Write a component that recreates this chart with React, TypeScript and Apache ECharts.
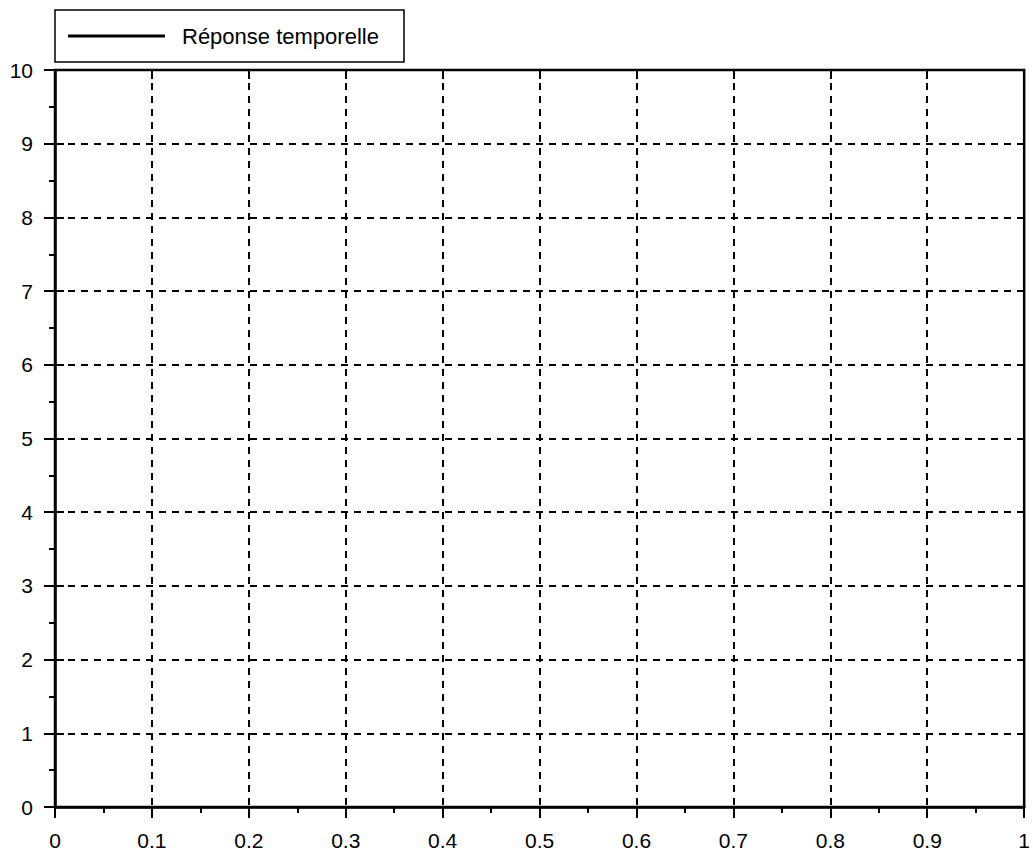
import React, { useEffect, useRef } from "react";
import * as echarts from "echarts";

const seriesName = "Réponse temporelle";
const timeValues: number[] = [];
const responseValues: number[] = [];
const xMin = 0;
const xMax = 1;
const xStep = 0.1;
const yMin = 0;
const yMax = 10;
const yStep = 1;

const FONT = "'Liberation Sans', Arial, Helvetica, sans-serif";

const innerTicksAxis = (min: number, max: number, step: number) => ({
  type: "value",
  min,
  max,
  interval: step,
  axisLine: { show: false, onZero: false },
  axisTick: { show: true, inside: true, length: 9, lineStyle: { color: "#000", width: 2 } },
  minorTick: { show: false },
  axisLabel: { show: false },
  splitLine: { show: false },
});

export default function App() {
  const ref = useRef<HTMLDivElement>(null);
  useEffect(() => {
    if (!ref.current) return;
    const chart = echarts.init(ref.current, null, { renderer: "svg" });
    const data = timeValues.map((t, i) => [t, responseValues[i]]);
    chart.setOption({
      animation: false,
      backgroundColor: "#ffffff",
      grid: {
        left: 55,
        top: 70,
        right: 1,
        height: 737,
        show: true,
        borderColor: "#000",
        borderWidth: 2.5,
        backgroundColor: "transparent",
      },
      graphic: [
        {
          type: "rect",
          shape: { x: 55, y: 10, width: 349, height: 52 },
          style: { fill: "#fff", stroke: "#000", lineWidth: 1.5 },
          z: 0,
        },
      ],
      legend: {
        show: true,
        left: 68,
        top: 25,
        orient: "horizontal",
        padding: 0,
        itemWidth: 97,
        itemHeight: 3,
        icon: "rect",
        z: 10,
        data: [{ name: seriesName, icon: "rect", itemStyle: { color: "#000" } }],
        textStyle: {
          color: "#000",
          fontFamily: FONT,
          fontSize: 22,
          padding: [0, 0, 0, 12],
        },
      },
      xAxis: [
        {
          type: "value",
          min: xMin,
          max: xMax,
          interval: xStep,
          axisLine: { show: true, onZero: false, lineStyle: { color: "#000", width: 2.5 } },
          axisTick: { show: true, inside: false, length: 11, lineStyle: { color: "#000", width: 2 } },
          minorTick: { show: true, splitNumber: 2, length: 6, lineStyle: { color: "#000", width: 2 } },
          axisLabel: { color: "#000", fontFamily: FONT, fontSize: 21, margin: 23, showMaxLabel: true, showMinLabel: true },
          splitLine: { show: true, lineStyle: { color: "#000", width: 2, type: [7, 6] } },
        },
        innerTicksAxis(xMin, xMax, xStep),
      ],
      yAxis: [
        {
          type: "value",
          min: yMin,
          max: yMax,
          interval: yStep,
          axisLine: { show: true, onZero: false, lineStyle: { color: "#000", width: 2.5 } },
          axisTick: { show: true, inside: false, length: 11, lineStyle: { color: "#000", width: 2 } },
          minorTick: { show: true, splitNumber: 2, length: 6, lineStyle: { color: "#000", width: 2 } },
          axisLabel: { color: "#000", fontFamily: FONT, fontSize: 21, margin: 22 },
          splitLine: { show: true, lineStyle: { color: "#000", width: 2, type: [7, 6] } },
        },
        { ...innerTicksAxis(yMin, yMax, yStep), position: "left" },
      ],
      series: [
        {
          name: seriesName,
          type: "line",
          xAxisIndex: 0,
          yAxisIndex: 0,
          data,
          showSymbol: false,
          lineStyle: { color: "#000", width: 3 },
          itemStyle: { color: "#000" },
        },
      ],
    });
    return () => chart.dispose();
  }, []);
  return (
    <div
      ref={ref}
      style={{ position: "fixed", left: 0, top: 0, width: 1033, height: 854, background: "#fff" }}
    />
  );
}
